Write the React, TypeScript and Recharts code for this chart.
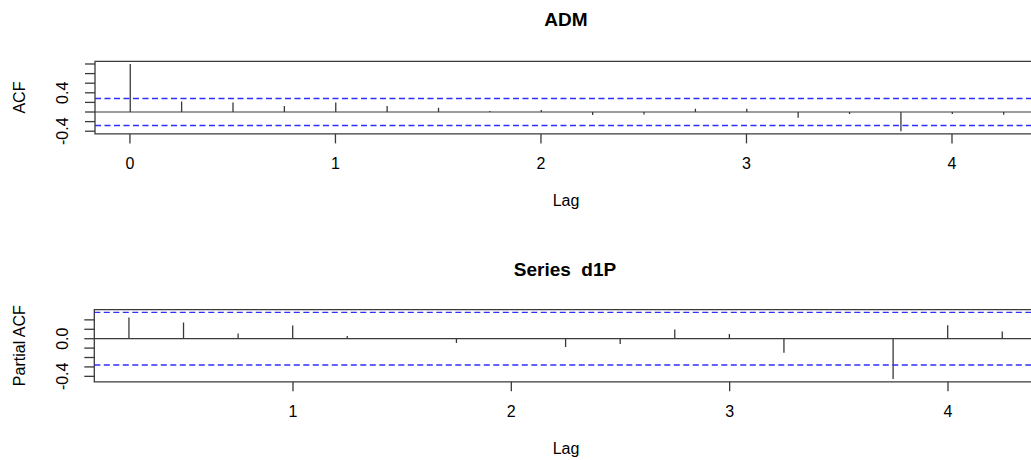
import { ComposedChart, Bar, XAxis, YAxis, ReferenceLine, ReferenceArea } from 'recharts';

// ── Look ──────────────────────────────────────────────────────────────────────
const FONT = '"Liberation Sans", Arial, Helvetica, sans-serif';
const INK = '#3a3a3a';
const CI_BLUE = '#2f2fff';

// ── ACF panel (ADM) ───────────────────────────────────────────────────────────
const ACF_LAGS = [0, 0.25, 0.5, 0.75, 1, 1.25, 1.5, 1.75, 2, 2.25, 2.5, 2.75, 3, 3.25, 3.5, 3.75, 4, 4.25];
const ACF_VALUES = [1.0, 0.22, 0.2, 0.125, 0.2, 0.125, 0.09, 0.02, 0.04, -0.06, -0.05, 0.07, 0.07, -0.12, -0.04, -0.4, -0.04, -0.055];
const ACF_X_TICKS = [0, 1, 2, 3, 4];
const ACF_Y_TICKS = [-0.4, -0.2, 0, 0.2, 0.4, 0.6, 0.8, 1.0];
const ACF_Y_LABELS = [0.4, -0.4];

// ── PACF panel (Series d1P) ───────────────────────────────────────────────────
const PACF_LAGS = [0.25, 0.5, 0.75, 1, 1.25, 1.5, 1.75, 2, 2.25, 2.5, 2.75, 3, 3.25, 3.5, 3.75, 4, 4.25];
const PACF_VALUES = [0.225, 0.172, 0.056, 0.14, 0.028, 0.004, -0.046, 0.003, -0.088, -0.056, 0.098, 0.049, -0.15, -0.003, -0.428, 0.144, 0.077];
const PACF_X_TICKS = [1, 2, 3, 4];
const PACF_Y_TICKS = [-0.4, -0.3, -0.2, -0.1, 0, 0.1, 0.2];
const PACF_Y_LABELS = [0.0, -0.4];

// 95% bounds (±2/sqrt(n))
const CI = 0.28;

const CHART_W = 1060;
const CHART_H = 200;
const XAXIS_H = 40;

function Spike(props: any) {
  const { x, y, width, height } = props;
  const cx = x + width / 2;
  return <line x1={cx} x2={cx} y1={y} y2={y + height} stroke={INK} strokeWidth={1.3} />;
}

function makeYTick(shown: number[]) {
  return function YTick(props: any) {
    const { y, payload } = props;
    if (!shown.some((v) => Math.abs(v - payload.value) < 1e-9)) return <g />;
    return (
      <text transform={`translate(68, ${y}) rotate(-90)`} textAnchor="middle" fontSize={16} fill="#000">
        {payload.value.toFixed(1)}
      </text>
    );
  };
}

interface PanelProps {
  lags: number[];
  values: number[];
  xDomain: [number, number];
  yDomain: [number, number];
  xTicks: number[];
  yTicks: number[];
  yLabels: number[];
  chartTop: number;
  plotLeft: number;
  plotRight: number;
  plotTop: number;
  plotBottom: number;
}

function Panel(p: PanelProps) {
  const data = p.lags.map((lag, i) => ({ lag, v: p.values[i] }));
  const margin = {
    top: p.plotTop - p.chartTop,
    right: CHART_W - p.plotRight,
    left: 0,
    bottom: CHART_H - (p.plotBottom - p.chartTop) - XAXIS_H,
  };
  return (
    <div style={{ position: 'absolute', left: 0, top: p.chartTop }}>
      <ComposedChart width={CHART_W} height={CHART_H} data={data} margin={margin}>
        <XAxis
          type="number"
          dataKey="lag"
          domain={p.xDomain}
          ticks={p.xTicks}
          interval={0}
          allowDataOverflow
          height={XAXIS_H}
          axisLine={false}
          tickLine={{ stroke: INK, strokeWidth: 1.3 }}
          tickSize={9.5}
          tickMargin={14}
          tick={{ fontSize: 16, fill: '#000' }}
        />
        <YAxis
          type="number"
          domain={p.yDomain}
          ticks={p.yTicks}
          interval={0}
          allowDataOverflow
          width={p.plotLeft}
          axisLine={false}
          tickLine={{ stroke: INK, strokeWidth: 1.3 }}
          tickSize={10}
          tick={makeYTick(p.yLabels)}
        />
        <ReferenceArea
          x1={p.xDomain[0]}
          x2={p.xDomain[1]}
          y1={p.yDomain[0]}
          y2={p.yDomain[1]}
          fill="none"
          stroke={INK}
          strokeWidth={1.3}
          ifOverflow="visible"
        />
        <ReferenceLine key="zero" y={0} stroke={INK} strokeWidth={1.2} />
        <ReferenceLine key="ci-up" y={CI} stroke={CI_BLUE} strokeWidth={1.4} strokeDasharray="6 3.5" />
        <ReferenceLine key="ci-lo" y={-CI} stroke={CI_BLUE} strokeWidth={1.4} strokeDasharray="6 3.5" />
        <Bar dataKey="v" barSize={2} shape={Spike} isAnimationActive={false} />
      </ComposedChart>
    </div>
  );
}

export default function App() {
  return (
    <div
      style={{
        position: 'absolute',
        left: 0,
        top: 0,
        width: 1031,
        height: 460,
        overflow: 'hidden',
        background: '#fff',
        fontFamily: FONT,
      }}
    >
      <Panel
        lags={ACF_LAGS}
        values={ACF_VALUES}
        xDomain={[-0.17, 4.42]}
        yDomain={[-0.456, 1.056]}
        xTicks={ACF_X_TICKS}
        yTicks={ACF_Y_TICKS}
        yLabels={ACF_Y_LABELS}
        chartTop={0}
        plotLeft={95}
        plotRight={1038.3}
        plotTop={61.3}
        plotBottom={133.9}
      />
      <Panel
        lags={PACF_LAGS}
        values={PACF_VALUES}
        xDomain={[0.09, 4.41]}
        yDomain={[-0.458, 0.308]}
        xTicks={PACF_X_TICKS}
        yTicks={PACF_Y_TICKS}
        yLabels={PACF_Y_LABELS}
        chartTop={240}
        plotLeft={94.3}
        plotRight={1037.5}
        plotTop={309.7}
        plotBottom={381.8}
      />
      <svg
        width={1031}
        height={460}
        style={{ position: 'absolute', left: 0, top: 0, pointerEvents: 'none' }}
      >
        <text x={566} y={25.7} textAnchor="middle" fontSize={19} fontWeight="bold" fill="#000">
          ADM
        </text>
        <text x={566} y={206} textAnchor="middle" fontSize={16} fill="#000">
          Lag
        </text>
        <text transform="translate(25, 97.6) rotate(-90)" textAnchor="middle" fontSize={16} fill="#000">
          ACF
        </text>
        <text
          x={565}
          y={275.7}
          textAnchor="middle"
          fontSize={19}
          fontWeight="bold"
          fill="#000"
          style={{ whiteSpace: 'pre' }}
        >
          {'Series  d1P'}
        </text>
        <text x={566} y={454} textAnchor="middle" fontSize={16} fill="#000">
          Lag
        </text>
        <text transform="translate(25, 345.7) rotate(-90)" textAnchor="middle" fontSize={16} fill="#000">
          Partial ACF
        </text>
      </svg>
    </div>
  );
}
